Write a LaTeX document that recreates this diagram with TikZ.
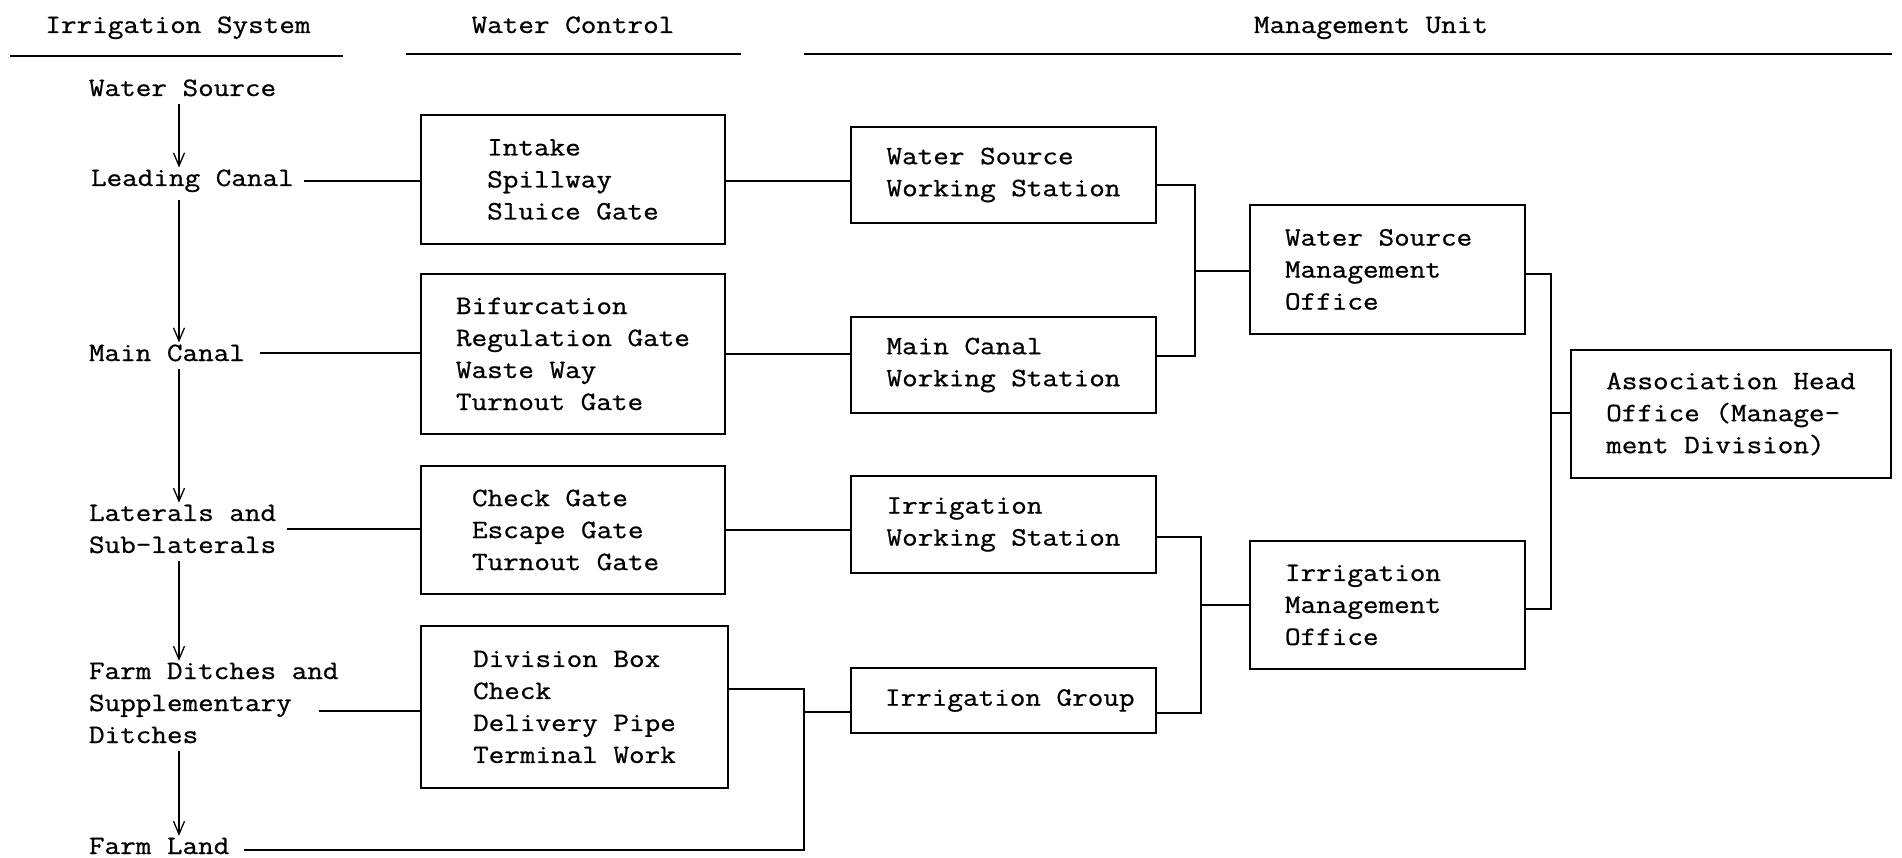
\documentclass[tikz,border=0pt]{standalone}
\usepackage{fontspec}
\newfontfamily\tw[FakeStretch=1.143,FakeBold=0.8]{Latin Modern Mono}
\usetikzlibrary{arrows.meta}
\begin{document}
\begin{tikzpicture}[x=1pt,y=-1pt,
  txt/.style={font=\tw\fontsize{26.5}{32}\selectfont, inner sep=0pt, outer sep=0pt, align=flush left},
  box/.style={txt, draw, line width=2.2pt},
  conn/.style={line width=1.8pt},
  ul/.style={line width=2.4pt},
  arr/.style={line width=1.3pt, -{Straight Barb[length=13pt,width=11pt,line width=1.3pt]}, shorten <=8pt, shorten >=2pt}]
\fill[white] (0,0) rectangle (1902,858);
\useasboundingbox (0,0) rectangle (1902,858);

% headers
\node[txt, anchor=base] (h1) at (178,33) {Irrigation System};
\node[txt, anchor=base] (h2) at (573,33) {Water Control};
\node[txt, anchor=base] (h3) at (1371,33) {Management Unit};
\coordinate (u1a) at (10,56);  \coordinate (u1b) at (343,56);
\coordinate (u2a) at (406,54); \coordinate (u2b) at (741,54);
\coordinate (u3a) at (804,54); \coordinate (u3b) at (1892,54);
\draw[ul] (u1a) -- (u1b);
\draw[ul] (u2a) -- (u2b);
\draw[ul] (u3a) -- (u3b);

% irrigation system column
\node[txt, anchor=base west] (ws) at (89,96) {Water Source};
\node[txt, anchor=base west] (lc) at (91,186) {Leading Canal};
\node[txt, anchor=base west] (mc) at (89,361) {Main Canal};
\node[txt, anchor=west] (lat) at (89,529) {Laterals and\\Sub-laterals};
\node[txt, anchor=west] (fd) at (89,703) {Farm Ditches and\\Supplementary\\Ditches};
\node[txt, anchor=base west] (fl) at (89,854) {Farm Land};

\coordinate (ax) at (179,0);
\draw[arr] (ws.south -| ax) -- (lc.north -| ax);
\draw[arr] (lc.south -| ax) -- (mc.north -| ax);
\draw[arr] (mc.south -| ax) -- (lat.north -| ax);
\draw[arr] (lat.south -| ax) -- (fd.north -| ax);
\draw[arr] (fd.south -| ax) -- (fl.north -| ax);

% water control boxes
\node[box, minimum width=304pt, minimum height=129pt] (b1) at (573,179.5) {Intake\\Spillway\\Sluice Gate};
\node[box, minimum width=304pt, minimum height=160pt] (b2) at (573,354) {Bifurcation\\Regulation Gate\\Waste Way\\Turnout Gate};
\node[box, minimum width=304pt, minimum height=128pt, text width=202pt] (b3) at (573,530) {Check Gate\\Escape Gate\\Turnout Gate};
\node[box, minimum width=307pt, minimum height=162pt] (b4) at (574.5,707) {Division Box\\Check\\Delivery Pipe\\Terminal Work};

% working stations
\node[box, minimum width=305pt, minimum height=96pt] (wsws) at (1003.5,175) {Water Source\\Working Station};
\node[box, minimum width=305pt, minimum height=96pt] (mcws) at (1003.5,365) {Main Canal\\Working Station};
\node[box, minimum width=305pt, minimum height=97pt] (iws) at (1003.5,524.5) {Irrigation\\Working Station};
\node[box, minimum width=305pt, minimum height=65pt, text width=237pt] (ig) at (1003.5,700.5) {\mbox{Irrigation Group}};

% management offices
\node[box, minimum width=275pt, minimum height=129pt, text width=205pt] (wsmo) at (1387.5,269.5) {Water Source\\Management\\Office};
\node[box, minimum width=275pt, minimum height=128pt, text width=205pt] (imo) at (1387.5,605) {Irrigation\\Management\\Office};
\node[box, minimum width=320pt, minimum height=128pt] (aho) at (1731,414) {Association Head\\Office (Manage-\\ment Division)};

% left connectors
\coordinate (y1) at (0,181);
\draw[conn, shorten <=10pt] (lc.east |- y1) -- (b1.west |- y1);
\draw[conn, shorten <=15pt] (mc.east) -- (mc.east -| b2.west);
\draw[conn, shorten <=11pt] (lat.east) -- (lat.east -| b3.west);
\coordinate (fdl) at (319,711);
\draw[conn] (fdl) -- (fdl -| b4.west);

% box to station connectors
\draw[conn] (b1.east |- y1) -- (wsws.west |- y1);
\draw[conn] (b2.east) -- (b2.east -| mcws.west);
\draw[conn] (b3.east) -- (b3.east -| iws.west);

% farm land / division box to irrigation group
\coordinate (j4t) at (804,689);
\coordinate (j4m) at (804,712);
\coordinate (j4b) at (804,850);
\draw[conn, shorten <=15pt] (fl.east |- j4b) -- (j4b) -- (j4t) -- (b4.east |- j4t);
\draw[conn] (j4m) -- (ig.west |- j4m);

% stations to management offices
\coordinate (j1t) at (1195,185);
\coordinate (j1m) at (1195,271);
\coordinate (j1b) at (1195,356);
\draw[conn] (wsws.east |- j1t) -- (j1t) -- (j1b) -- (mcws.east |- j1b);
\draw[conn] (j1m) -- (wsmo.west |- j1m);

\coordinate (j2t) at (1201,537);
\coordinate (j2m) at (1201,605);
\coordinate (j2b) at (1201,713);
\draw[conn] (iws.east |- j2t) -- (j2t) -- (j2b) -- (ig.east |- j2b);
\draw[conn] (j2m) -- (imo.west |- j2m);

% offices to head office
\coordinate (j3t) at (1551,274);
\coordinate (j3m) at (1551,413);
\coordinate (j3b) at (1551,609);
\draw[conn] (wsmo.east |- j3t) -- (j3t) -- (j3b) -- (imo.east |- j3b);
\draw[conn] (j3m) -- (aho.west |- j3m);
\end{tikzpicture}
\end{document}
